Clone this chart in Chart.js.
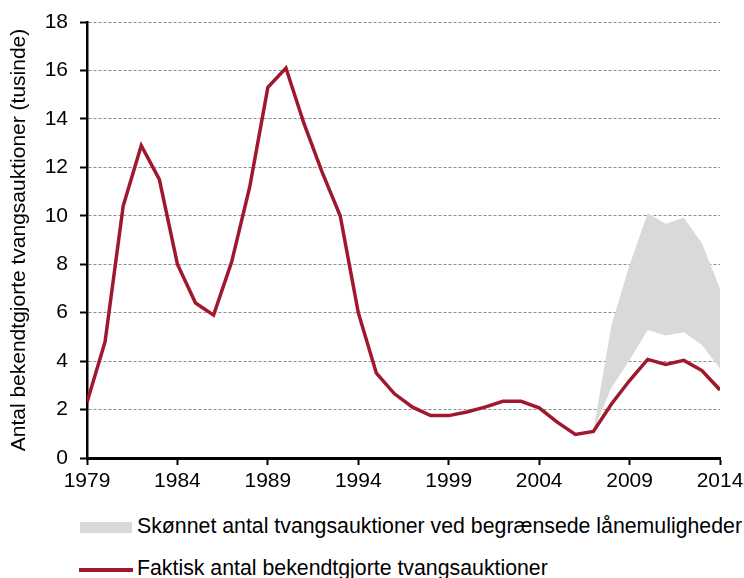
<!DOCTYPE html>
<html lang="da">
<head>
  <meta charset="UTF-8" />
  <title>Tvangsauktioner 1979-2014</title>
  <style>
    body {
      margin: 0;
      background: #fff;
      font-family: 'Liberation Sans', Arial, sans-serif;
    }
    #wrap {
      position: relative;
      width: 744px;
      height: 578px;
      overflow: hidden;
    }
    #chart {
      position: absolute;
      left: 0;
      top: 0;
    }
    .legend-text {
      position: absolute;
      left: 137px;
      font-size: 21.3px;
      line-height: 21px;
      color: #000;
      white-space: nowrap;
    }
    .legend-box {
      position: absolute;
      left: 80px;
      top: 522px;
      width: 52px;
      height: 11px;
      background: #d9d9d9;
    }
    .legend-line {
      position: absolute;
      left: 79px;
      top: 568px;
      width: 54px;
      height: 4px;
      background: #a0182d;
    }
  </style>
</head>
<body>
  <div id="wrap">
    <canvas id="chart" width="744" height="500"></canvas>
    <div class="legend-box"></div>
    <div class="legend-text" style="top:516px;">Skønnet antal tvangsauktioner ved begrænsede lånemuligheder</div>
    <div class="legend-line"></div>
    <div class="legend-text" style="top:558px;">Faktisk antal bekendtgjorte tvangsauktioner</div>
  </div>

  <script src="https://cdn.jsdelivr.net/npm/chart.js"></script>
  <script>
    // actual number of announced forced sales, thousands
    const years = [1979, 1980, 1981, 1982, 1983, 1984, 1985, 1986, 1987, 1988,
                   1989, 1990, 1991, 1992, 1993, 1994, 1995, 1996, 1997, 1998,
                   1999, 2000, 2001, 2002, 2003, 2004, 2005, 2006, 2007, 2008,
                   2009, 2010, 2011, 2012, 2013, 2014];
    const actual = [2.3, 4.8, 10.4, 12.9, 11.5, 8.0, 6.4, 5.9, 8.1, 11.2,
                    15.3, 16.1, 13.8, 11.8, 10.0, 6.0, 3.5, 2.65, 2.1, 1.75,
                    1.75, 1.9, 2.1, 2.34, 2.34, 2.07, 1.48, 0.97, 1.1, 2.23,
                    3.2, 4.07, 3.86, 4.03, 3.61, 2.81];

    // estimate range under restricted lending
    const bandYears = [2007, 2008, 2009, 2010, 2011, 2012, 2013, 2014];
    const bandLow = [1.12, 2.9, 4.05, 5.28, 5.06, 5.19, 4.66, 3.7];
    const bandHigh = [1.12, 5.49, 7.97, 10.1, 9.67, 9.92, 8.87, 7.0];

    const xTicks = [1979, 1984, 1989, 1994, 1999, 2004, 2009, 2014];

    const toPoints = (xs, ys) => xs.map((x, i) => ({ x: x, y: ys[i] }));
    const fontSpec = { family: "'Liberation Sans', Arial, sans-serif", size: 21 };

    new Chart(document.getElementById('chart'), {
      type: 'line',
      data: {
        datasets: [
          {
            label: 'Faktisk antal bekendtgjorte tvangsauktioner',
            data: toPoints(years, actual),
            borderColor: '#a0182d',
            borderWidth: 3.5,
            pointRadius: 0,
            tension: 0,
            fill: false
          },
          {
            label: 'lav',
            data: toPoints(bandYears, bandLow),
            borderWidth: 0,
            pointRadius: 0,
            fill: false
          },
          {
            label: 'Skønnet antal tvangsauktioner ved begrænsede lånemuligheder',
            data: toPoints(bandYears, bandHigh),
            borderWidth: 0,
            pointRadius: 0,
            backgroundColor: '#d9d9d9',
            fill: '-1'
          }
        ]
      },
      options: {
        responsive: false,
        devicePixelRatio: 1,
        animation: false,
        layout: { padding: { left: 0, right: 24, top: 22, bottom: 0 } },
        plugins: {
          legend: { display: false },
          tooltip: { enabled: false }
        },
        scales: {
          x: {
            type: 'linear',
            min: 1979,
            max: 2014,
            afterBuildTicks: axis => { axis.ticks = xTicks.map(v => ({ value: v })); },
            afterFit: axis => {
              axis.height = 42;
              axis.paddingLeft = 0;
              axis.paddingRight = 0;
            },
            ticks: {
              color: '#000',
              font: fontSpec,
              padding: 4,
              maxRotation: 0,
              autoSkip: false,
              callback: v => String(v)
            },
            grid: {
              drawOnChartArea: false,
              drawTicks: true,
              tickLength: 7,
              tickWidth: 2,
              tickColor: '#000'
            },
            border: { display: true, color: '#000', width: 3 }
          },
          y: {
            min: 0,
            max: 18,
            afterFit: axis => {
              axis.width = 87;
              axis.paddingTop = 0;
              axis.paddingBottom = 0;
            },
            ticks: {
              stepSize: 2,
              color: '#000',
              font: fontSpec,
              padding: 12
            },
            grid: {
              color: ctx => (ctx.tick && ctx.tick.value === 0 ? 'rgba(0,0,0,0)' : '#8c8c8c'),
              lineWidth: 1,
              drawTicks: true,
              tickLength: 7,
              tickWidth: 2,
              tickColor: '#000'
            },
            border: { display: true, color: '#000', width: 2.5, dash: [3, 2] },
            title: {
              display: true,
              text: 'Antal bekendtgjorte tvangsauktioner (tusinde)',
              color: '#000',
              font: fontSpec,
              padding: { top: 7, bottom: 0 }
            }
          }
        }
      }
    });
  </script>
</body>
</html>
